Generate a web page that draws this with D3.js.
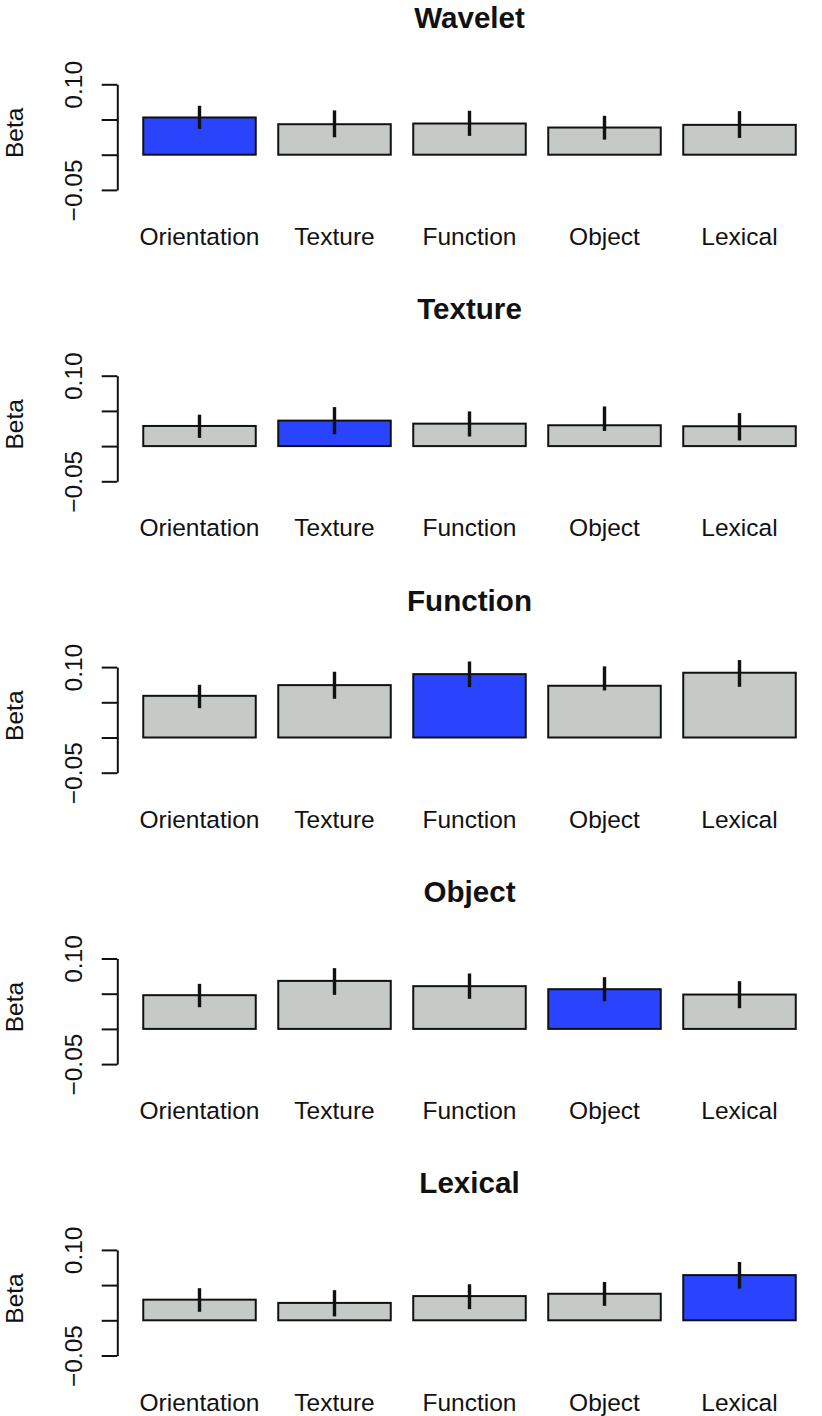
<!DOCTYPE html>
<html>
<head>
<meta charset="utf-8">
<script src="https://cdn.jsdelivr.net/npm/d3@7"></script>
<style>
  body { margin: 0; background: #fff; }
  text { font-family: "Liberation Sans", Arial, Helvetica, sans-serif; fill: #111; }
</style>
</head>
<body>
<script>
// categories on the x axis and the model of each panel
const categories = ["Orientation", "Texture", "Function", "Object", "Lexical"];
const panelTitles = ["Wavelet", "Texture", "Function", "Object", "Lexical"];
const highlight = ["Orientation", "Texture", "Function", "Object", "Lexical"];

// beta per category, with lower / upper ends of the error bars
const wavelet   = [0.0529, 0.0433, 0.0443, 0.0386, 0.0424];
const waveletLo = [0.0367, 0.0248, 0.0267, 0.0214, 0.0238];
const waveletHi = [0.0695, 0.0629, 0.0624, 0.0552, 0.0619];

const texture   = [0.0286, 0.0362, 0.0319, 0.0296, 0.0282];
const textureLo = [0.0117, 0.0169, 0.0136, 0.0216, 0.0080];
const textureHi = [0.0446, 0.0554, 0.0493, 0.0563, 0.0469];

const func      = [0.0592, 0.0744, 0.0900, 0.0735, 0.0920];
const funcLo    = [0.0417, 0.0550, 0.0716, 0.0668, 0.0720];
const funcHi    = [0.0749, 0.0934, 0.1080, 0.1010, 0.1100];

const object    = [0.0479, 0.0682, 0.0607, 0.0564, 0.0488];
const objectLo  = [0.0308, 0.0483, 0.0427, 0.0393, 0.0294];
const objectHi  = [0.0640, 0.0863, 0.0787, 0.0735, 0.0678];

const lexical   = [0.0293, 0.0247, 0.0344, 0.0377, 0.0642];
const lexicalLo = [0.0121, 0.0056, 0.0158, 0.0205, 0.0451];
const lexicalHi = [0.0456, 0.0428, 0.0512, 0.0544, 0.0828];

const yTicks = [-0.05, 0, 0.05, 0.10];
const yLabels = ["\u22120.05", "", "", "0.10"];

const panels = [
  [wavelet, waveletLo, waveletHi],
  [texture, textureLo, textureHi],
  [func, funcLo, funcHi],
  [object, objectLo, objectHi],
  [lexical, lexicalLo, lexicalHi]
].map((s, i) => ({
  title: panelTitles[i],
  hi: highlight[i],
  bars: categories.map((c, j) => ({ cat: c, v: s[0][j], lo: s[1][j], up: s[2][j] }))
}));

const width = 822;
const height = 1416;
const axisX = 117.3;
const firstTop = 84.3;
const panelStep = 291.4;
const axisSpan = 105.6;

const svg = d3.select("body").append("svg")
  .attr("width", width)
  .attr("height", height);

const x = d3.scaleBand()
  .domain(categories)
  .range([132, 807])
  .paddingInner(1 / 6)
  .paddingOuter(1 / 12);

panels.forEach((p, i) => {
  const top = firstTop + i * panelStep;
  const y = d3.scaleLinear()
    .domain([-0.05, 0.10])
    .range([top + axisSpan, top]);

  const g = svg.append("g");

  // y axis
  const ax = g.append("g")
    .attr("transform", `translate(${axisX},0)`)
    .call(d3.axisLeft(y)
      .tickValues(yTicks)
      .tickSize(15.6)
      .tickSizeOuter(0)
      .tickFormat((d, k) => yLabels[k]));
  ax.select(".domain").attr("stroke", "#111").attr("stroke-width", 2);
  ax.selectAll(".tick line").attr("stroke", "#111").attr("stroke-width", 2);
  ax.selectAll(".tick text")
    .attr("x", null)
    .attr("dy", null)
    .attr("transform", "translate(-35.6,0) rotate(-90)")
    .attr("text-anchor", "middle")
    .attr("fill", "#111")
    .style("font-size", "24.5px")
    .style("font-family", "'Liberation Sans', Arial, Helvetica, sans-serif");

  g.append("text")
    .attr("transform", `translate(23.3,${y(0.031)}) rotate(-90)`)
    .attr("text-anchor", "middle")
    .style("font-size", "24.5px")
    .text("Beta");

  // bars
  g.selectAll("rect")
    .data(p.bars)
    .join("rect")
    .attr("x", d => x(d.cat))
    .attr("width", x.bandwidth())
    .attr("y", d => y(d.v))
    .attr("height", d => y(0) - y(d.v))
    .attr("fill", d => d.cat === p.hi ? "#2a44fe" : "#c5cac7")
    .attr("stroke", "#111")
    .attr("stroke-width", 2);

  // error bars
  g.selectAll("line.err")
    .data(p.bars)
    .join("line")
    .attr("class", "err")
    .attr("x1", d => x(d.cat) + x.bandwidth() / 2)
    .attr("x2", d => x(d.cat) + x.bandwidth() / 2)
    .attr("y1", d => y(d.up))
    .attr("y2", d => y(d.lo))
    .attr("stroke", "#111")
    .attr("stroke-width", 3.4);

  // category labels
  g.selectAll("text.cat")
    .data(p.bars)
    .join("text")
    .attr("class", "cat")
    .attr("x", d => x(d.cat) + x.bandwidth() / 2)
    .attr("y", y(0) + 90.2)
    .attr("text-anchor", "middle")
    .style("font-size", "24.5px")
    .text(d => d.cat);

  g.append("text")
    .attr("x", (x(categories[0]) + x(categories[4]) + x.bandwidth()) / 2)
    .attr("y", y(0) - 127)
    .attr("text-anchor", "middle")
    .style("font-size", "29.6px")
    .style("font-weight", "bold")
    .text(p.title);
});
</script>
</body>
</html>
